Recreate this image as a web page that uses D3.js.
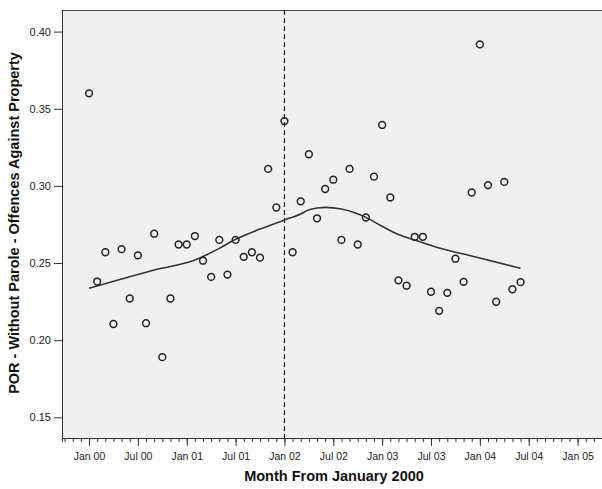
<!DOCTYPE html>
<html><head><meta charset="utf-8">
<script src="https://cdn.jsdelivr.net/npm/d3@7"></script>
<style>body{margin:0;background:#fff}svg{display:block}text{font-family:"Liberation Sans",Arial,sans-serif}</style>
</head><body>
<svg id="c" width="602" height="489"></svg>
<script>
// month index (0 = Jan 2000)
const months = d3.range(0, 54);
const values = [0.360,0.238,0.257,0.2105,0.259,0.227,0.255,0.211,0.269,0.189,
0.227,0.262,0.262,0.2675,0.2515,0.241,0.265,0.2425,0.265,0.254,
0.257,0.2535,0.311,0.286,0.342,0.257,0.290,0.3205,0.279,0.298,
0.304,0.265,0.311,0.262,0.2795,0.306,0.3395,0.2925,0.2388,0.2353,
0.267,0.267,0.2314,0.219,0.2307,0.2528,0.2378,0.2957,0.3917,0.3005,
0.2249,0.3026,0.233,0.2376];
const fitMonths = [0,4,8,13,16,18,21,24,26,27,29,31,34,36,38,40,43,47,53];
const fitValues = [0.2336,0.2396,0.2455,0.2519,0.2595,0.2654,0.2720,0.2779,0.2818,0.2845,0.2861,0.2850,0.2796,0.2738,0.2685,0.2649,0.2597,0.2546,0.2466];
const tickMonths = [0,6,12,18,24,30,36,42,48,54,60];
const tickLabels = ["Jan 00","Jul 00","Jan 01","Jul 01","Jan 02","Jul 02","Jan 03","Jul 03","Jan 04","Jul 04","Jan 05"];
const yTicks = [0.15,0.20,0.25,0.30,0.35,0.40];
const interventionMonth = 24;

const svg = d3.select("#c");
const L=62, R=602, T=10, B=438;
const x = d3.scaleLinear().domain([-3.32, 63.0]).range([L, R]);
const y = d3.scaleLinear().domain([0.1366, 0.414]).range([B, T]);

svg.append("rect").attr("x",L).attr("y",T).attr("width",R-L).attr("height",B-T).attr("fill","#f0f0f0");
svg.append("line").attr("x1",L).attr("x2",R).attr("y1",T+0.5).attr("y2",T+0.5).attr("stroke","#444").attr("stroke-width",1);

const minor = d3.range(-3, 63);
const gxm = svg.append("g").attr("transform",`translate(0,${B})`)
  .call(d3.axisBottom(x).tickValues(minor).tickSize(4).tickFormat(""));
gxm.select(".domain").attr("stroke","#333");
gxm.selectAll(".tick line").attr("stroke","#333");
const gx = svg.append("g").attr("transform",`translate(0,${B})`)
  .call(d3.axisBottom(x).tickValues(tickMonths).tickSize(8).tickPadding(7).tickFormat((d,i)=>tickLabels[i]));
gx.select(".domain").remove();
gx.selectAll(".tick line").attr("stroke","#333");
gx.selectAll("text").attr("font-size","10.5px").attr("fill","#222");

const gy = svg.append("g").attr("transform",`translate(${L},0)`)
  .call(d3.axisLeft(y).tickValues(yTicks).tickSize(8).tickPadding(3).tickFormat(d3.format(".2f")));
gy.select(".domain").attr("stroke","#333").attr("d",`M0.5,${B}V${T}`);
gy.selectAll(".tick line").attr("stroke","#333");
gy.selectAll("text").attr("font-size","11px").attr("fill","#222");

svg.append("line").attr("x1",x(interventionMonth)).attr("x2",x(interventionMonth))
  .attr("y1",T).attr("y2",B).attr("stroke","#222").attr("stroke-width",1.2).attr("stroke-dasharray","5,3");

svg.append("path").datum(fitMonths.map((m,i)=>[m,fitValues[i]]))
  .attr("d", d3.line().x(d=>x(d[0])).y(d=>y(d[1])).curve(d3.curveMonotoneX))
  .attr("fill","none").attr("stroke","#333").attr("stroke-width",1.6);

svg.append("g").selectAll("circle").data(months).join("circle")
  .attr("cx",m=>x(m)).attr("cy",(m,i)=>y(values[i])).attr("r",3.4)
  .attr("fill","none").attr("stroke","#222").attr("stroke-width",1.5);

svg.append("text").attr("x",334).attr("y",481).attr("text-anchor","middle")
  .attr("font-size","14.5px").attr("font-weight","bold").attr("fill","#111").text("Month From January 2000");
svg.append("text").attr("transform","translate(19,223) rotate(-90)").attr("text-anchor","middle")
  .attr("font-size","14.5px").attr("font-weight","bold").attr("fill","#111").text("POR - Without Parole - Offences Against Property");
</script>
</body></html>
